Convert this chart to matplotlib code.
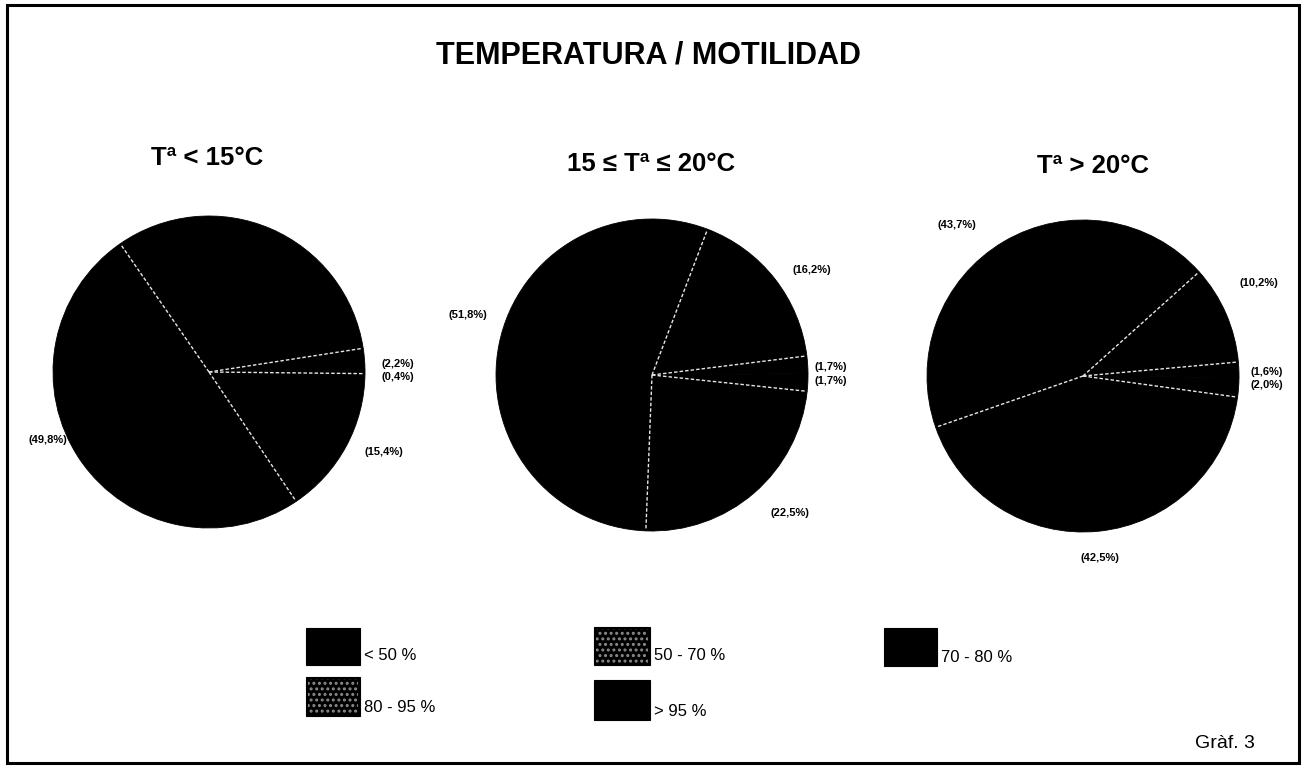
"""TEMPERATURA / MOTILIDAD - three all-black pies with thin dotted separators."""

import numpy as np
import matplotlib
matplotlib.use("Agg")
import matplotlib.pyplot as plt
from matplotlib.patches import Rectangle

plt.rcParams["font.family"] = ["Liberation Sans", "DejaVu Sans"]
plt.rcParams["hatch.linewidth"] = 1.4

# ---- data -------------------------------------------------------------------
categories = ["< 50 %", "50 - 70 %", "70 - 80 %", "80 - 95 %", "> 95 %"]
pie_titles = ["Tª < 15°C", "15 ≤ Tª ≤ 20°C", "Tª > 20°C"]
low_temp = [0.4, 2.2, 32.2, 49.8, 15.4]      # 32,2 is not printed on the chart
mid_temp = [1.7, 1.7, 16.2, 51.8, 22.5]
high_temp = [2.0, 1.6, 10.2, 43.7, 42.5]
printed = [[True, True, False, True, True],
           [True, True, True, True, True],
           [True, True, True, True, True]]
hatched = [False, True, False, True, False]  # speckled legend swatches

# ---- layout (pixels, y measured from top) -----------------------------------
W, H = 1302, 766
centers = [(209, 372), (652, 375), (1083, 376)]
radius = 156
start_angles = [-0.6, -6.0, -7.8]
title_pos = [(207, 158), (651, 164), (1093, 166)]
label_pos = [
    [(398, 377), (398, 364), None, (48, 440), (384, 452)],
    [(831, 381), (831, 367), (812, 270), (468, 315), (790, 513)],
    [(1267, 385), (1267, 372), (1259, 283), (957, 225), (1100, 558)],
]
legend_boxes = [(306, 628, 54, 37), (594, 627, 56, 38), (884, 628, 53, 38),
                (306, 677, 54, 39), (594, 680, 56, 40)]


def fy(y):
    return H - y


fig = plt.figure(figsize=(W / 100, H / 100), dpi=100)
ax = fig.add_axes([0, 0, 1, 1])

for values, (cx, cy), start, flags, lpos in zip(
        [low_temp, mid_temp, high_temp], centers, start_angles, printed, label_pos):
    wedges, _ = ax.pie(values, colors=["black"] * len(values), startangle=start,
                       counterclock=True, radius=radius, center=(cx, fy(cy)),
                       frame=True, wedgeprops=dict(linewidth=0.6, edgecolor="black"))
    # separators (the one between the two tiny first slices is not visible)
    for k, w in enumerate(wedges):
        if k == 1:
            continue
        th = np.radians(w.theta1)
        ax.plot([cx, cx + radius * 0.99 * np.cos(th)],
                [fy(cy), fy(cy) + radius * 0.99 * np.sin(th)],
                color="#e6e6e6", lw=1.0, ls=(0, (2.5, 1.5)), zorder=5)
    for v, show, p in zip(values, flags, lpos):
        if not show or p is None:
            continue
        txt = f"({v:.1f}%)".replace(".", ",")
        ax.text(p[0], fy(p[1]), txt, ha="center", va="center", fontsize=8,
                fontweight="bold")

for t, (x, y) in zip(pie_titles, title_pos):
    ax.text(x, fy(y), t, ha="center", va="center", fontsize=18.5,
            fontweight="bold")

ax.text(648, fy(56), "TEMPERATURA / MOTILIDAD", ha="center", va="center",
        fontsize=22, fontweight="bold")

for name, (x, y, w, h), hat in zip(categories, legend_boxes, hatched):
    ax.add_patch(Rectangle((x, fy(y + h)), w, h, facecolor="black",
                           edgecolor="black", lw=0.8))
    if hat:
        ax.add_patch(Rectangle((x + 2, fy(y + h) + 2), w - 4, h - 4, fill=False,
                               edgecolor="#8c8c8c", hatch="...", lw=0))
    ax.text(x + w + 4, fy(y + h - 9), name, ha="left", va="center", fontsize=12)

ax.text(1225, fy(743), "Gràf. 3", ha="center", va="center", fontsize=14)

# outer frame
ax.add_patch(Rectangle((7, fy(763)), 1292, 758, fill=False, edgecolor="black",
                       lw=2.2))

ax.set_xlim(0, W)
ax.set_ylim(0, H)
ax.set_axis_off()
fig.savefig("out.png", dpi=100)
